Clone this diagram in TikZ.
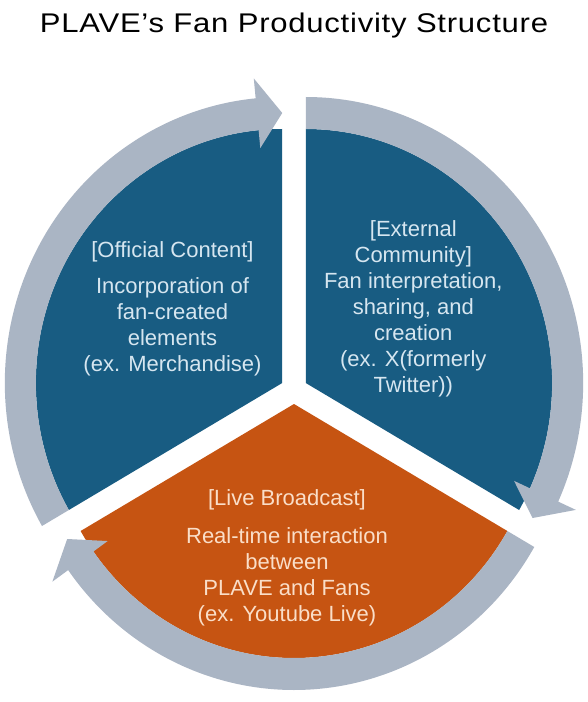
\documentclass[tikz,border=0pt]{standalone}
\usepackage{fontspec}
\setmainfont{Liberation Sans}
\newfontfamily\titlefont[FakeStretch=1.15,LetterSpace=2.8]{Liberation Sans}
\definecolor{segblue}{RGB}{24,92,130}
\definecolor{segorange}{RGB}{198,84,18}
\definecolor{ringgray}{RGB}{170,181,196}
\definecolor{bluetxt}{RGB}{214,230,240}
\definecolor{orangetxt}{RGB}{250,222,200}
\tikzset{
  blocktext/.style={align=center,inner sep=0pt,font=\fontsize{22}{26}\selectfont},
  onblue/.style={blocktext,text=bluetxt},
  onorange/.style={blocktext,text=orangetxt},
  ringpart/.style={fill=ringgray},
}
\begin{document}
\begin{tikzpicture}[x=1pt,y=1pt]
\useasboundingbox (-294,-312) rectangle (293,390);
\fill[white] (-294,-312) rectangle (293,390);
\node[font=\titlefont\fontsize{27}{32}\selectfont,inner sep=0pt] (title) at (0,364) {PLAVE’s Fan Productivity Structure};
\begin{scope}[xscale=0.97]
  % sectors
  \begin{scope}[shift={(150:14)}]
    \fill[segblue] (0,0) -- (90:254) arc[start angle=90,end angle=210,radius=254] -- cycle;
  \end{scope}
  \begin{scope}[shift={(30:14)}]
    \fill[segblue] (0,0) -- (90:254) arc[start angle=90,end angle=-30,radius=254] -- cycle;
  \end{scope}
  \begin{scope}[shift={(270:14)}]
    \fill[segorange] (0,0) -- (-30:254) arc[start angle=-30,end angle=-150,radius=254] -- cycle;
  \end{scope}
  % ring arrows
  \begin{scope}[shift={(150:14)}]
    \fill[ringpart] (210:254) -- (210:286) arc[start angle=210,end angle=95.5,radius=286]
      -- (95.5:306) -- (90:270) -- (95.5:236) -- (95.5:254)
      arc[start angle=95.5,end angle=210,radius=254] -- cycle;
  \end{scope}
  \begin{scope}[shift={(30:14)}]
    \fill[ringpart] (90:254) -- (90:286) arc[start angle=90,end angle=-24.5,radius=286]
      -- (-24.5:306) -- (-30:270) -- (-24.5:236) -- (-24.5:254)
      arc[start angle=-24.5,end angle=90,radius=254] -- cycle;
  \end{scope}
  \begin{scope}[shift={(270:14)}]
    \fill[ringpart] (-30:254) -- (-30:286) arc[start angle=-30,end angle=-144.5,radius=286]
      -- (-144.5:306) -- (-150:270) -- (-144.5:236) -- (-144.5:254)
      arc[start angle=-144.5,end angle=-30,radius=254] -- cycle;
  \end{scope}
\end{scope}
% texts
\node[onblue] (official) at (-121.5,81.6) {[Official Content]\\[10pt]Incorporation of\\fan-created\\elements\\(ex. Merchandise)};
\node[onblue] (external) at (119.3,81.5) {[External\\Community]\\Fan interpretation,\\sharing, and\\creation\\(ex. X(formerly\\Twitter))};
\node[onorange] (live) at (-7,-167.5) {[Live Broadcast]\\[12pt]Real-time interaction\\between\\PLAVE and Fans\\(ex. Youtube Live)};
\end{tikzpicture}
\end{document}
